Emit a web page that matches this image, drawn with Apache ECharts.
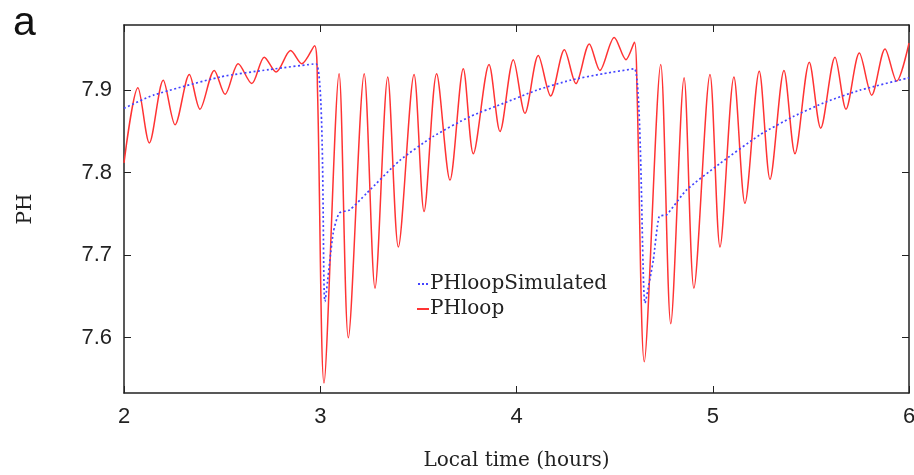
<!DOCTYPE html>
<html>
<head>
<meta charset="utf-8">
<script src="https://cdn.jsdelivr.net/npm/echarts@6/dist/echarts.min.js"></script>
<style>html,body{margin:0;padding:0;background:#fff}#c{width:914px;height:475px}</style>
</head>
<body>
<div id="c"></div>
<script>
// ---- data ----
const xTicks = [2, 3, 4, 5, 6];
const yTicks = [7.6, 7.7, 7.8, 7.9];

const loopTime = [2.000,2.071,2.129,2.200,2.260,2.333,2.387,2.460,2.515,2.582,2.651,2.715,2.775,2.849,2.906,2.971,2.986,3.019,
  3.096,3.143,3.224,3.279,3.344,3.398,3.478,3.529,3.593,3.661,3.729,3.780,3.860,3.916,3.984,4.043,4.111,4.174,4.244,4.303,4.371,4.425,4.498,4.558,4.601,4.614,4.651,
  4.735,4.786,4.854,4.904,4.986,5.037,5.108,5.164,5.237,5.292,5.363,5.419,5.492,5.550,5.623,5.679,5.747,5.810,5.878,5.937,6.000];
const loopPH = [7.812,7.903,7.836,7.912,7.858,7.919,7.877,7.924,7.895,7.932,7.908,7.940,7.922,7.948,7.932,7.954,7.900,7.545,
  7.920,7.600,7.920,7.660,7.916,7.710,7.919,7.753,7.920,7.791,7.926,7.823,7.931,7.850,7.937,7.872,7.942,7.893,7.949,7.908,7.956,7.924,7.964,7.937,7.958,7.900,7.571,
  7.931,7.617,7.915,7.660,7.919,7.710,7.916,7.763,7.923,7.792,7.924,7.823,7.934,7.854,7.940,7.877,7.945,7.894,7.950,7.911,7.957];

const simTime = [2.000,2.150,2.490,2.740,2.978,3.024,3.066,3.097,3.151,3.236,3.406,3.576,3.763,3.933,4.103,4.273,4.443,4.601,
  4.655,4.697,4.727,4.765,4.866,5.036,5.241,5.410,5.580,5.750,6.000];
const simPH = [7.878,7.894,7.916,7.925,7.932,7.644,7.727,7.751,7.755,7.775,7.815,7.844,7.868,7.884,7.900,7.912,7.920,7.926,
  7.642,7.694,7.747,7.749,7.779,7.811,7.846,7.868,7.886,7.900,7.915];

const zip = (a, b) => a.map((t, i) => [t, b[i]]);

const chart = echarts.init(document.getElementById('c'));
const axisCol = '#222';
const sans = 'Liberation Sans';
const serif = 'DejaVu Serif';
const blue = '#4444ff';
const red = '#ff3333';
chart.setOption({
  animation: false,
  title: { text: 'a', left: 8, top: -2, textStyle: { fontFamily: sans, fontSize: 41, fontWeight: 'normal', color: '#111' } },
  grid: { left: 124, right: 5, top: 25, bottom: 82, outerBoundsMode: 'none', containLabel: false },
  legend: {
    orient: 'vertical', left: 417, top: 274,
    data: [
      { name: 'PHloopSimulated', icon: 'path://M0,0h2v2h-2zM4,0h2v2h-2zM8,0h2v2h-2z' , itemStyle: { color: blue } },
      { name: 'PHloop', icon: 'path://M0,0h12v2h-12z', itemStyle: { color: red } }
    ],
    itemWidth: 12, itemHeight: 2, itemGap: 5, padding: 0,
    textStyle: { fontFamily: serif, fontSize: 20, color: '#222', padding: [0,0,0,-4] }
  },
  xAxis: [
    { type: 'value', min: 2, max: 6, interval: 1, position: 'bottom',
      name: 'Local time (hours)', nameLocation: 'middle', nameGap: 58,
      nameTextStyle: { fontFamily: serif, fontSize: 20, color: '#222' },
      axisLine: { lineStyle: { color: axisCol, width: 1.5 } },
      axisTick: { inside: true, length: 7, lineStyle: { color: axisCol } },
      axisLabel: { margin: 13, fontFamily: sans, fontSize: 22, color: '#222', formatter: v => String(v) },
      splitLine: { show: false } },
    { type: 'value', min: 2, max: 6, interval: 1, position: 'top',
      axisLine: { lineStyle: { color: axisCol, width: 1.5 } },
      axisTick: { inside: true, length: 7, lineStyle: { color: axisCol } },
      axisLabel: { show: false }, splitLine: { show: false } }
  ],
  yAxis: [
    { type: 'value', min: 7.533, max: 7.979, position: 'left',
      name: 'PH', nameLocation: 'middle', nameGap: 88, nameRotate: 90,
      nameTextStyle: { fontFamily: serif, fontSize: 20, color: '#222' },
      axisLine: { show: true, lineStyle: { color: axisCol, width: 1.5 } },
      axisTick: { show: true, inside: true, length: 7, customValues: yTicks, lineStyle: { color: axisCol } },
      axisLabel: { margin: 12, fontFamily: sans, fontSize: 22, color: '#222', customValues: yTicks, formatter: v => v.toFixed(1) },
      splitLine: { show: false } },
    { type: 'value', min: 7.533, max: 7.979, position: 'right',
      axisLine: { show: true, lineStyle: { color: axisCol, width: 1.5 } },
      axisTick: { show: true, inside: true, length: 7, customValues: yTicks, lineStyle: { color: axisCol } },
      axisLabel: { show: false }, splitLine: { show: false } }
  ],
  series: [
    { name: 'PHloopSimulated', type: 'line', data: zip(simTime, simPH), showSymbol: false, symbol: 'none', smooth: 0.2,
      lineStyle: { color: blue, width: 1.7, type: [2, 2.5] }, itemStyle: { color: blue }, z: 3 },
    { name: 'PHloop', type: 'line', data: zip(loopTime, loopPH), showSymbol: false, symbol: 'none', smooth: 0.3,
      lineStyle: { color: red, width: 1.5 }, itemStyle: { color: red }, z: 2 }
  ]
});
</script>
</body>
</html>
